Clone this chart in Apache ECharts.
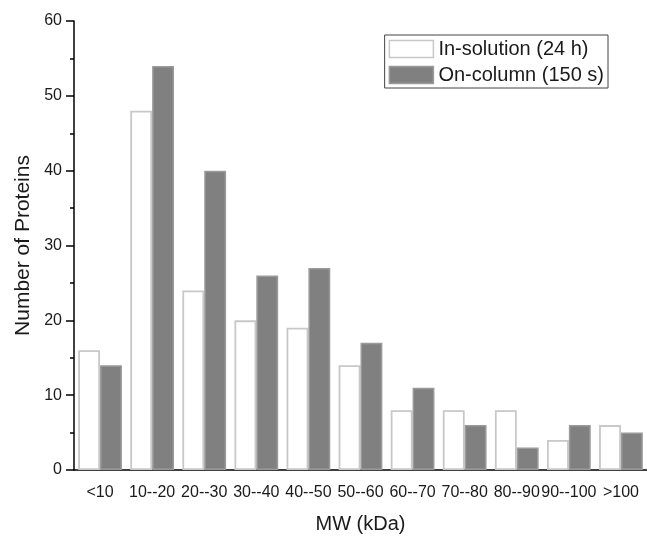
<!DOCTYPE html>
<html>
<head>
<meta charset="utf-8">
<script src="https://cdn.jsdelivr.net/npm/echarts@6/dist/echarts.min.js"></script>
<style>html,body{margin:0;padding:0;background:#fff}#c{width:647px;height:539px}</style>
</head>
<body>
<div id="c"></div>
<script>
const categories = ['<10','10--20','20--30','30--40','40--50','50--60','60--70','70--80','80--90','90--100','>100'];
const inSolution = [16,48,24,20,19,14,8,8,8,4,6];
const onColumn = [14,54,40,26,27,17,11,6,3,6,5];
const yTicks = {min:0, max:60, interval:10};

const chart = echarts.init(document.getElementById('c'), null, {renderer:'canvas'});
const font = 'Liberation Sans, Arial, sans-serif';
const txt = '#1a1a1a';
chart.setOption({
  animation:false,
  backgroundColor:'#fff',
  grid:{left:74, width:577, top:21, height:452},
  legend:{
    right:39, top:35, orient:'vertical', icon:'rect',
    backgroundColor:'#fff', borderColor:'#444', borderWidth:1,
    padding:[4,4,3,4], itemWidth:44, itemHeight:17, itemGap:6,
    textStyle:{fontFamily:font, fontSize:20, color:txt},
    data:[
      {name:'In-solution (24 h)', itemStyle:{color:'#fff', borderColor:'#c8c8c8', borderWidth:1.5}},
      {name:'On-column (150 s)', itemStyle:{color:'#808080', borderColor:'#9a9a9a', borderWidth:1.5}}
    ]
  },
  xAxis:[{
    type:'category', data:categories, position:'bottom',
    name:'MW (kDa)', nameLocation:'middle', nameGap:44,
    nameTextStyle:{fontFamily:font, fontSize:20, color:txt},
    axisLine:{lineStyle:{color:'#000', width:1.5}},
    axisTick:{alignWithLabel:true, length:7, lineStyle:{color:'#000', width:1.5}},
    axisLabel:{interval:0, fontFamily:font, fontSize:16, color:txt, margin:15},
    splitLine:{show:false}
  },{
    type:'category', data:categories, position:'bottom',
    axisLine:{show:false},
    axisTick:{alignWithLabel:false, length:4, lineStyle:{color:'#000', width:1.5}},
    axisLabel:{show:false}, splitLine:{show:false}
  }],
  yAxis:{
    type:'value', min:yTicks.min, max:yTicks.max, interval:yTicks.interval,
    name:'Number of Proteins', nameLocation:'middle', nameGap:40,
    nameTextStyle:{fontFamily:font, fontSize:21, color:txt},
    axisLine:{show:true, lineStyle:{color:'#000', width:1.5}},
    axisTick:{show:true, length:8, lineStyle:{color:'#000', width:1.5}},
    minorTick:{show:true, splitNumber:2, length:4, lineStyle:{color:'#000', width:1.5}},
    axisLabel:{fontFamily:font, fontSize:16, color:txt, margin:12},
    splitLine:{show:false}
  },
  series:[
    {name:'In-solution (24 h)', type:'bar', data:inSolution, barGap:'0%', barCategoryGap:'16%',
     itemStyle:{color:'#fff', borderColor:'#c8c8c8', borderWidth:1.8}},
    {name:'On-column (150 s)', type:'bar', data:onColumn, barGap:'0%', barCategoryGap:'16%',
     itemStyle:{color:'#808080', borderColor:'#9a9a9a', borderWidth:1.5}}
  ]
});
</script>
</body>
</html>
